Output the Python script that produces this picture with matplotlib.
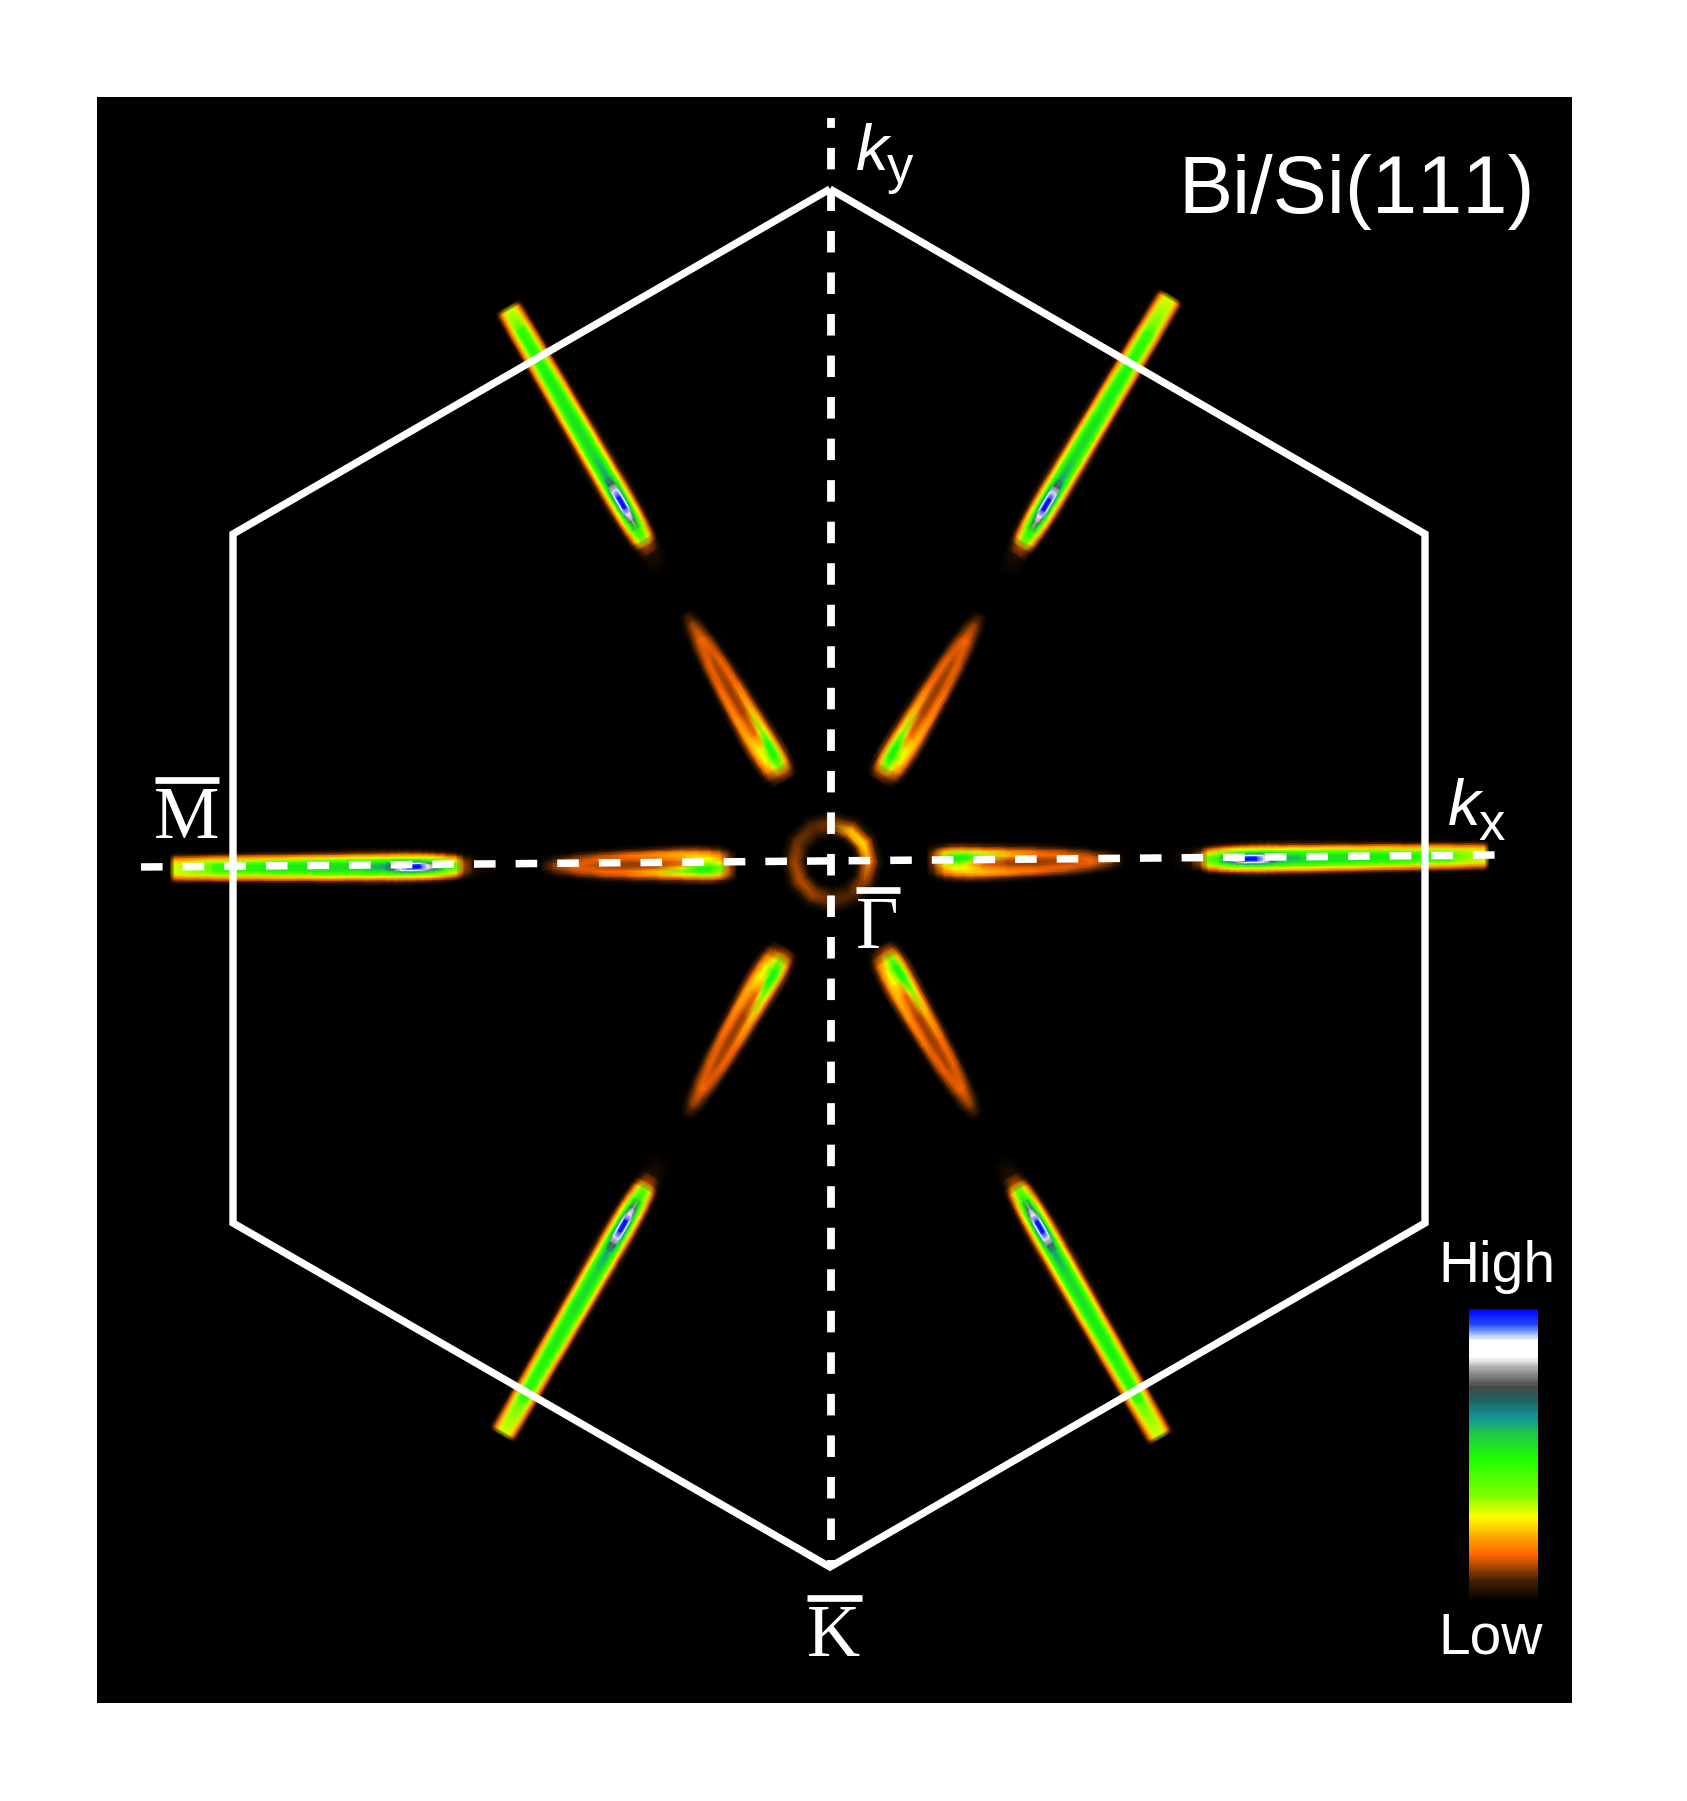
import numpy as np
import matplotlib
matplotlib.use("Agg")
import matplotlib.pyplot as plt
from matplotlib.colors import LinearSegmentedColormap

plt.rcParams["text.kerning_factor"] = 6

# =========================
# colour scale (0 = Low, 1 = High)
# =========================
scale_pos = [0, 0.07, 0.16, 0.22, 0.29, 0.36, 0.485, 0.575, 0.626, 0.69, 0.735, 0.80, 0.837, 0.894, 0.917, 0.95, 1]
scale_col = ["#000000", "#402000", "#ff6400", "#ffa500", "#ffff00", "#82ff00", "#1eff00", "#1ec846",
             "#149696", "#1e6464", "#464646", "#aaaaaa", "#ffffff", "#ffffff", "#96b4ff", "#1e46ff", "#0000ff"]

# =========================
# Fermi surface pockets, all in reference pixels
# =========================
gamma_x, gamma_y = 832, 864

arm_angle = [0.7, 59.2, 120.2, 180.4, 240.0, 299.8]
arm_flip = [1, 1, -1, 1, 1, 1]
arm_end = [657, 662, 645, 662, 660, 662]

# outer pockets: distance from Gamma / distance across the pocket
outer_s = [340, 360, 369, 376, 388, 398, 405, 412, 425, 432, 439, 447, 470, 520, 570, 620, 660, 664]
outer_t = [0, 2, 3.5, 5, 7, 9.5, 12, 14, 16, 19]
outer_val = [
    [0.00, 0.00, 0.00, 0.00, 0.00, 0.00, 0.00, 0.00, 0.00, 0.00],
    [0.04, 0.04, 0.04, 0.04, 0.03, 0.02, 0.01, 0.00, 0.00, 0.00],
    [0.14, 0.14, 0.13, 0.12, 0.10, 0.06, 0.02, 0.01, 0.00, 0.00],
    [0.38, 0.37, 0.35, 0.31, 0.25, 0.16, 0.08, 0.03, 0.00, 0.00],
    [0.52, 0.50, 0.46, 0.41, 0.34, 0.23, 0.13, 0.06, 0.02, 0.00],
    [0.80, 0.74, 0.62, 0.48, 0.38, 0.27, 0.16, 0.08, 0.03, 0.00],
    [0.87, 0.87, 0.76, 0.54, 0.41, 0.29, 0.18, 0.09, 0.03, 0.00],
    [1.00, 0.96, 0.86, 0.60, 0.44, 0.30, 0.19, 0.10, 0.04, 0.00],
    [1.00, 0.96, 0.86, 0.62, 0.46, 0.31, 0.20, 0.11, 0.05, 0.01],
    [0.90, 0.88, 0.82, 0.60, 0.46, 0.31, 0.20, 0.11, 0.05, 0.01],
    [0.75, 0.72, 0.66, 0.54, 0.46, 0.31, 0.20, 0.11, 0.05, 0.01],
    [0.63, 0.60, 0.56, 0.50, 0.44, 0.30, 0.19, 0.10, 0.05, 0.01],
    [0.56, 0.54, 0.52, 0.48, 0.42, 0.30, 0.19, 0.10, 0.05, 0.01],
    [0.52, 0.52, 0.50, 0.46, 0.38, 0.27, 0.17, 0.08, 0.03, 0.00],
    [0.50, 0.50, 0.47, 0.42, 0.34, 0.24, 0.15, 0.07, 0.02, 0.00],
    [0.46, 0.45, 0.43, 0.38, 0.32, 0.22, 0.13, 0.05, 0.01, 0.00],
    [0.30, 0.30, 0.29, 0.28, 0.25, 0.18, 0.10, 0.04, 0.01, 0.00],
    [0.00, 0.00, 0.00, 0.00, 0.00, 0.00, 0.00, 0.00, 0.00, 0.00],
]

# inner pockets
inner_s = [95, 103, 112, 122, 135, 150, 175, 205, 235, 260, 280, 292]
inner_t = [-20, -16, -13, -10, -6, -2.5, 0, 2.5, 6, 10, 13, 16, 20]
inner_val = [
    [0.00, 0.00, 0.00, 0.00, 0.00, 0.00, 0.00, 0.00, 0.00, 0.00, 0.00, 0.00, 0.00],
    [0.00, 0.01, 0.04, 0.08, 0.10, 0.12, 0.13, 0.14, 0.14, 0.12, 0.08, 0.03, 0.00],
    [0.01, 0.05, 0.12, 0.18, 0.22, 0.28, 0.32, 0.38, 0.36, 0.25, 0.17, 0.07, 0.01],
    [0.01, 0.08, 0.16, 0.23, 0.29, 0.34, 0.42, 0.50, 0.50, 0.34, 0.21, 0.10, 0.02],
    [0.02, 0.10, 0.18, 0.25, 0.30, 0.27, 0.33, 0.48, 0.50, 0.34, 0.20, 0.09, 0.02],
    [0.02, 0.10, 0.19, 0.24, 0.21, 0.17, 0.18, 0.27, 0.38, 0.28, 0.17, 0.08, 0.01],
    [0.01, 0.07, 0.16, 0.21, 0.16, 0.12, 0.12, 0.14, 0.24, 0.22, 0.13, 0.05, 0.00],
    [0.00, 0.03, 0.11, 0.17, 0.15, 0.11, 0.11, 0.12, 0.17, 0.16, 0.09, 0.03, 0.00],
    [0.00, 0.01, 0.06, 0.12, 0.16, 0.14, 0.12, 0.14, 0.16, 0.12, 0.05, 0.01, 0.00],
    [0.00, 0.00, 0.01, 0.06, 0.12, 0.16, 0.17, 0.16, 0.12, 0.06, 0.01, 0.00, 0.00],
    [0.00, 0.00, 0.00, 0.01, 0.05, 0.09, 0.10, 0.09, 0.05, 0.01, 0.00, 0.00, 0.00],
    [0.00, 0.00, 0.00, 0.00, 0.00, 0.00, 0.00, 0.00, 0.00, 0.00, 0.00, 0.00, 0.00],
]

# ring around Gamma
ring_angle = [0, 30, 60, 90, 120, 150, 180, 210, 240, 270, 300, 330, 360]
ring_r = [22, 27, 32, 37, 42, 47, 53]
ring_val = [
    [0.00, 0.04, 0.13, 0.20, 0.13, 0.05, 0.00],
    [0.00, 0.06, 0.22, 0.28, 0.15, 0.05, 0.00],
    [0.00, 0.06, 0.20, 0.25, 0.13, 0.05, 0.00],
    [0.00, 0.03, 0.08, 0.10, 0.09, 0.04, 0.00],
    [0.00, 0.02, 0.06, 0.08, 0.08, 0.04, 0.00],
    [0.00, 0.02, 0.07, 0.09, 0.09, 0.04, 0.00],
    [0.00, 0.03, 0.09, 0.12, 0.10, 0.04, 0.00],
    [0.00, 0.03, 0.10, 0.13, 0.10, 0.04, 0.00],
    [0.00, 0.03, 0.09, 0.12, 0.10, 0.04, 0.00],
    [0.00, 0.02, 0.06, 0.08, 0.08, 0.04, 0.00],
    [0.00, 0.02, 0.06, 0.08, 0.07, 0.03, 0.00],
    [0.00, 0.03, 0.09, 0.12, 0.10, 0.04, 0.00],
    [0.00, 0.04, 0.13, 0.20, 0.13, 0.05, 0.00],
]

# =========================
# Brillouin zone and k axes
# =========================
hex_x = [830, 1425, 1425, 830, 233, 233, 830]
hex_y = [189, 534, 1223, 1567, 1223, 534, 189]
kx_line_x = [141, 1496]
kx_line_y = [867, 855]
ky_line_x = [831, 831]
ky_line_y = [118, 1567]

cmap = LinearSegmentedColormap.from_list("arpes", list(zip(scale_pos, scale_col)), N=256)


def draw_pocket(ax, s, t, val, angle, flip):
    s = np.array(s, dtype=float)
    t = np.array(t, dtype=float) * flip
    a = np.radians(angle)
    S, T = np.meshgrid(s, t, indexing="ij")
    X = gamma_x + S * np.cos(a) - T * np.sin(a)
    Y = gamma_y - S * np.sin(a) - T * np.cos(a)
    ax.pcolormesh(X, Y, np.array(val), shading="gouraud", cmap=cmap, vmin=0, vmax=1)


fig = plt.figure(figsize=(16.87, 18.01), dpi=100, facecolor="white")
ax = fig.add_axes([97 / 1687, 1 - 1703 / 1801, 1475 / 1687, 1606 / 1801], facecolor="black")

# outer values only go one way across, mirror them
outer_t_full = [-v for v in outer_t[:0:-1]] + outer_t
outer_val_full = np.hstack([np.array(outer_val)[:, :0:-1], np.array(outer_val)])

for angle, flip, end in zip(arm_angle, arm_flip, arm_end):
    arm_s = outer_s[:-2] + [end - 4, end]
    draw_pocket(ax, arm_s, outer_t_full, outer_val_full, angle, flip)
    draw_pocket(ax, inner_s, inner_t, inner_val, angle, flip)

# ring
th, rr = np.meshgrid(np.radians(ring_angle), ring_r, indexing="ij")
ax.pcolormesh(gamma_x + rr * np.cos(th), 862 - rr * np.sin(th), np.array(ring_val),
              shading="gouraud", cmap=cmap, vmin=0, vmax=1)

# hexagon + dashed axes
ax.plot(hex_x, hex_y, color="white", lw=5.3, solid_joinstyle="miter", solid_capstyle="butt")
ax.plot(kx_line_x, kx_line_y, color="white", lw=5.4, ls=(0, (2.88, 2.67)), dash_capstyle="butt")
ax.plot(ky_line_x, ky_line_y, color="white", lw=5.6, ls=(1.5, (2.77, 2.57)), dash_capstyle="butt")

# colour bar
ramp = np.linspace(0, 1, 256)
bar_y = np.linspace(1602, 1309, 257)
ax.pcolormesh([1469, 1538], bar_y, ramp[:, None], cmap=cmap, vmin=0, vmax=1)

# labels
sans = "Liberation Sans"
serif = "Liberation Serif"
ax.text(1178, 213, "Bi/Si(111)", color="white", fontsize=58.5, family=sans)
ax.text(1438, 1282, "High", color="white", fontsize=41, family=sans)
ax.text(1438, 1653, "Low", color="white", fontsize=41, family=sans)
ax.text(856, 170, "k", color="white", fontsize=47, family=sans, style="italic")
ax.text(887, 183, "y", color="white", fontsize=38, family=sans)
ax.text(1448, 825, "k", color="white", fontsize=47, family=sans, style="italic")
ax.text(1478, 840, "x", color="white", fontsize=38, family=sans)

for label, x, y, bar_x in [("M", 154, 838, (155, 219)), ("\u0393", 856, 948, (856, 900)), ("K", 807, 1656, (807, 862))]:
    ax.text(x, y, label, color="white", fontsize=53, family=serif)
    ax.plot(bar_x, [y - 58, y - 58], color="white", lw=4.8, solid_capstyle="butt")

ax.set_xlim(97, 1572)
ax.set_ylim(1703, 97)
ax.set_xticks([])
ax.set_yticks([])
for sp in ax.spines.values():
    sp.set_visible(False)

fig.savefig("out.png", dpi=100)
